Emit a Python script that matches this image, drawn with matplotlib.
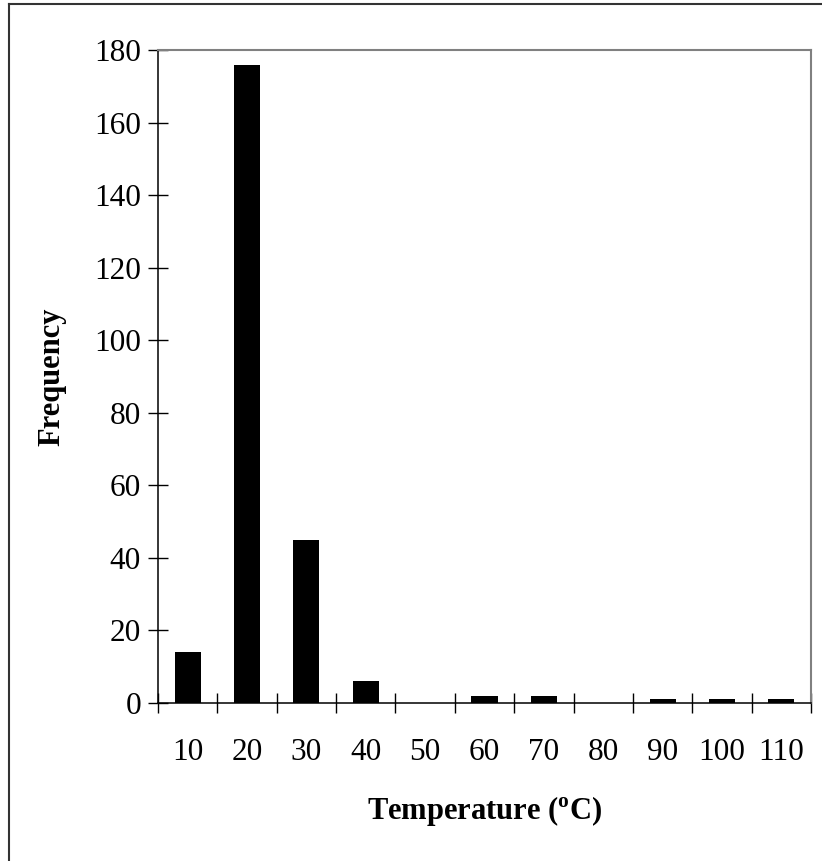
import matplotlib.pyplot as plt
import numpy as np
from matplotlib.lines import Line2D

plt.rcParams['font.family'] = ['Liberation Serif', 'DejaVu Serif']
plt.rcParams['mathtext.fontset'] = 'custom'
plt.rcParams['mathtext.rm'] = 'Liberation Serif'
plt.rcParams['mathtext.bf'] = 'Liberation Serif:bold'

# データ
temperatures = ['10', '20', '30', '40', '50', '60', '70', '80', '90', '100', '110']
frequency = [14, 176, 45, 6, 0, 2, 2, 0, 1, 1, 1]

fig = plt.figure(figsize=(8.22, 8.61), dpi=100)
ax = fig.add_axes([158 / 822, 1 - 703 / 861, (811 - 158) / 822, (703 - 50) / 861])

x = np.arange(len(temperatures))
ax.bar(x, frequency, width=0.44, color='black')

ax.set_xlim(-0.5, len(temperatures) - 0.5)
ax.set_ylim(0, 180)
ax.set_yticks(np.arange(0, 181, 20))

# 目盛りはカテゴリの境界に
ax.set_xticks(x)
ax.set_xticklabels(temperatures)
ax.set_xticks(np.arange(-0.5, len(temperatures)), minor=True)
ax.tick_params(axis='x', which='major', length=0, pad=25, labelsize=22.5)
ax.tick_params(axis='x', which='minor', direction='inout', length=14.4, width=1)
ax.tick_params(axis='y', direction='inout', length=14.4, width=1, pad=5, labelsize=22.5)

for side in ['left', 'bottom']:
    ax.spines[side].set_color('black')
    ax.spines[side].set_linewidth(1.1)
for side in ['top', 'right']:
    ax.spines[side].set_color('#808080')
    ax.spines[side].set_linewidth(1.5)

ax.set_ylabel('Frequency', fontsize=22, fontweight='bold')
ax.yaxis.set_label_coords(-0.14, 0.5)
ax.set_xlabel(r'Temperature ($^{\mathbf{o}}$C)', fontsize=22, fontweight='bold')
ax.xaxis.set_label_coords(0.5, -0.14)

# 外枠（左と上のみ）
fig.add_artist(Line2D([8.5 / 822, 8.5 / 822], [0, 1 - 4 / 861], color='#333333', lw=1.5))
fig.add_artist(Line2D([8.5 / 822, 1], [1 - 4 / 861, 1 - 4 / 861], color='#333333', lw=1.5))

fig.savefig('out.png', dpi=100)
